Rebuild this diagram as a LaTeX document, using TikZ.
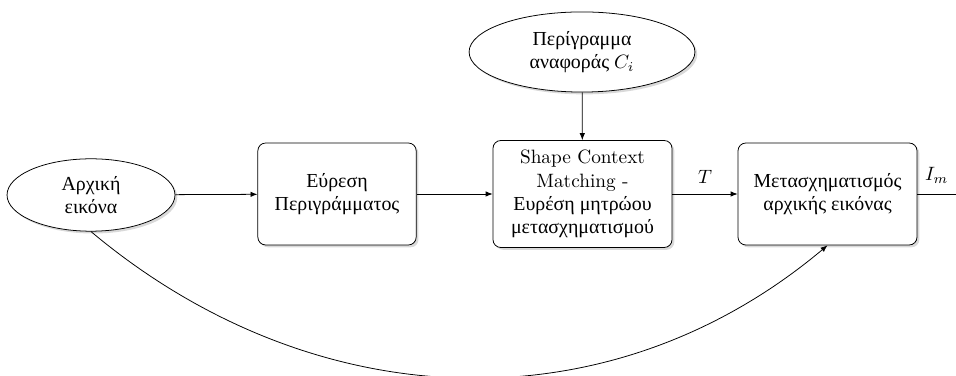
\documentclass[tikz,border=0pt]{standalone}
\usepackage{fontspec}
\newfontfamily\greek[Script=Greek,Scale=1.03]{Liberation Serif}
\usetikzlibrary{shapes.geometric,shadows,arrows.meta}
\begin{document}
\begin{tikzpicture}[x=0.518pt,y=0.518pt,
  shade/.style={drop shadow={shadow xshift=1.2pt,shadow yshift=-1.2pt,opacity=0.3}},
  stage/.style={draw, rounded corners=4pt, fill=white, align=center, shade,
    inner sep=3pt, font=\greek},
  source/.style={draw, ellipse, fill=white, align=center, shade,
    inner sep=0pt, font=\greek},
  flow/.style={-{Latex[length=3.6pt,width=2.8pt]}}]
  \useasboundingbox (0,0) rectangle (956,376);

  % input image and reference contour
  \node[source, minimum width=87pt, minimum height=37.5pt] (img) at (91,181)
    {Αρχική\\εικόνα};
  \node[source, minimum width=117pt, minimum height=41.5pt] (ref) at (582,324)
    {Περίγραμμα\\αναφοράς $C_i$};

  % processing stages
  \node[stage, minimum width=82pt, minimum height=52.8pt] (cont) at (337,182)
    {Εύρεση\\Περιγράμματος};
  \node[stage, minimum width=92.7pt, minimum height=55.4pt] (match) at (582.5,182)
    {{\rmfamily Shape Context}\\{\rmfamily Matching -}\\Ευρέση μητρώου\\μετασχηματισμού};
  \node[stage, minimum width=92.7pt, minimum height=52.8pt] (warp) at (827.5,182)
    {Μετασχηματισμός\\αρχικής εικόνας};
  \coordinate (out) at (956,182);

  % connections
  \draw[flow] (img) -- (cont);
  \draw[flow] (cont) -- (match);
  \draw[flow] (match) -- node[above=2pt] {$T$} (warp);
  \draw (warp) -- node[above=2pt] {$I_m$} (out);
  \draw[flow] (ref) -- (match);
  \draw[flow] (img.south) to[out=-40,in=-140] (warp.south);
\end{tikzpicture}
\end{document}
